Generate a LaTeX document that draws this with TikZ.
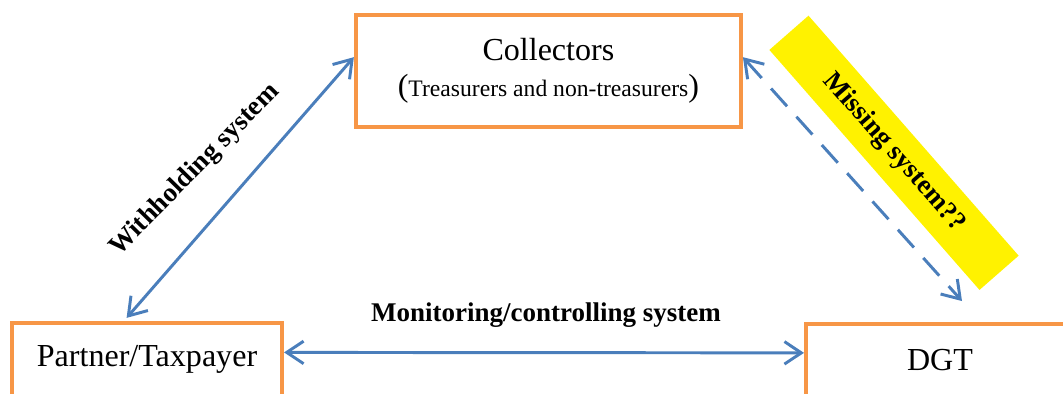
\documentclass[tikz,border=0pt]{standalone}
\usepackage{fontspec}
\setmainfont{Liberation Serif}
\usepackage{xcolor}
\usepackage{tikz}
\usetikzlibrary{arrows.meta}

\definecolor{boxorange}{RGB}{247,150,70}
\definecolor{linkblue}{RGB}{74,126,187}

\begin{document}
\begin{tikzpicture}[
        box/.style={draw=boxorange, line width=2.9pt, fill=white, align=center,
            font=\fontsize{22.8}{25}\selectfont},
        link/.style={draw=linkblue, line width=2.1pt,
            {Straight Barb[length=12pt,width=16pt]}-{Straight Barb[length=12pt,width=16pt]}},
        syslabel/.style={font=\fontsize{19.2}{22}\selectfont\bfseries},
    ]
        \useasboundingbox (0, 0) rectangle (26.575, 9.85);

        % the three boxes
        \node[box, minimum width=9.625cm, minimum height=2.8cm] (coll) at (13.71, 8.08)
            {Collectors\\({\fontsize{16.8}{25}\selectfont Treasurers and non-treasurers})};
        \node[box, minimum width=6.75cm, minimum height=1.825cm] (part) at (3.675, 0.86) {Partner/Taxpayer};
        \node[box, minimum width=6.7cm, minimum height=1.8cm] (dgt) at (23.5, 0.85) {DGT};

        % yellow note
        \node[syslabel, fill=yellow, rotate=-48.8, minimum width=7.975cm, minimum height=1.3cm]
            (miss) at (22.35, 6.03) {Missing system??};

        % links
        \draw[link, shorten >=3pt] (coll.176) -- (part.121);
        \draw[link] (part.3) -- (dgt.177);
        \draw[link, dash pattern=on 17pt off 10pt, shorten >=20pt] (coll.4) -- (dgt.43);

        % link labels
        \node[syslabel, rotate=45.5] (with) at (4.875, 5.6) {Withholding system};
        \node[syslabel] (moni) at (13.65, 1.975) {Monitoring/controlling system};
    \end{tikzpicture}
\end{document}
